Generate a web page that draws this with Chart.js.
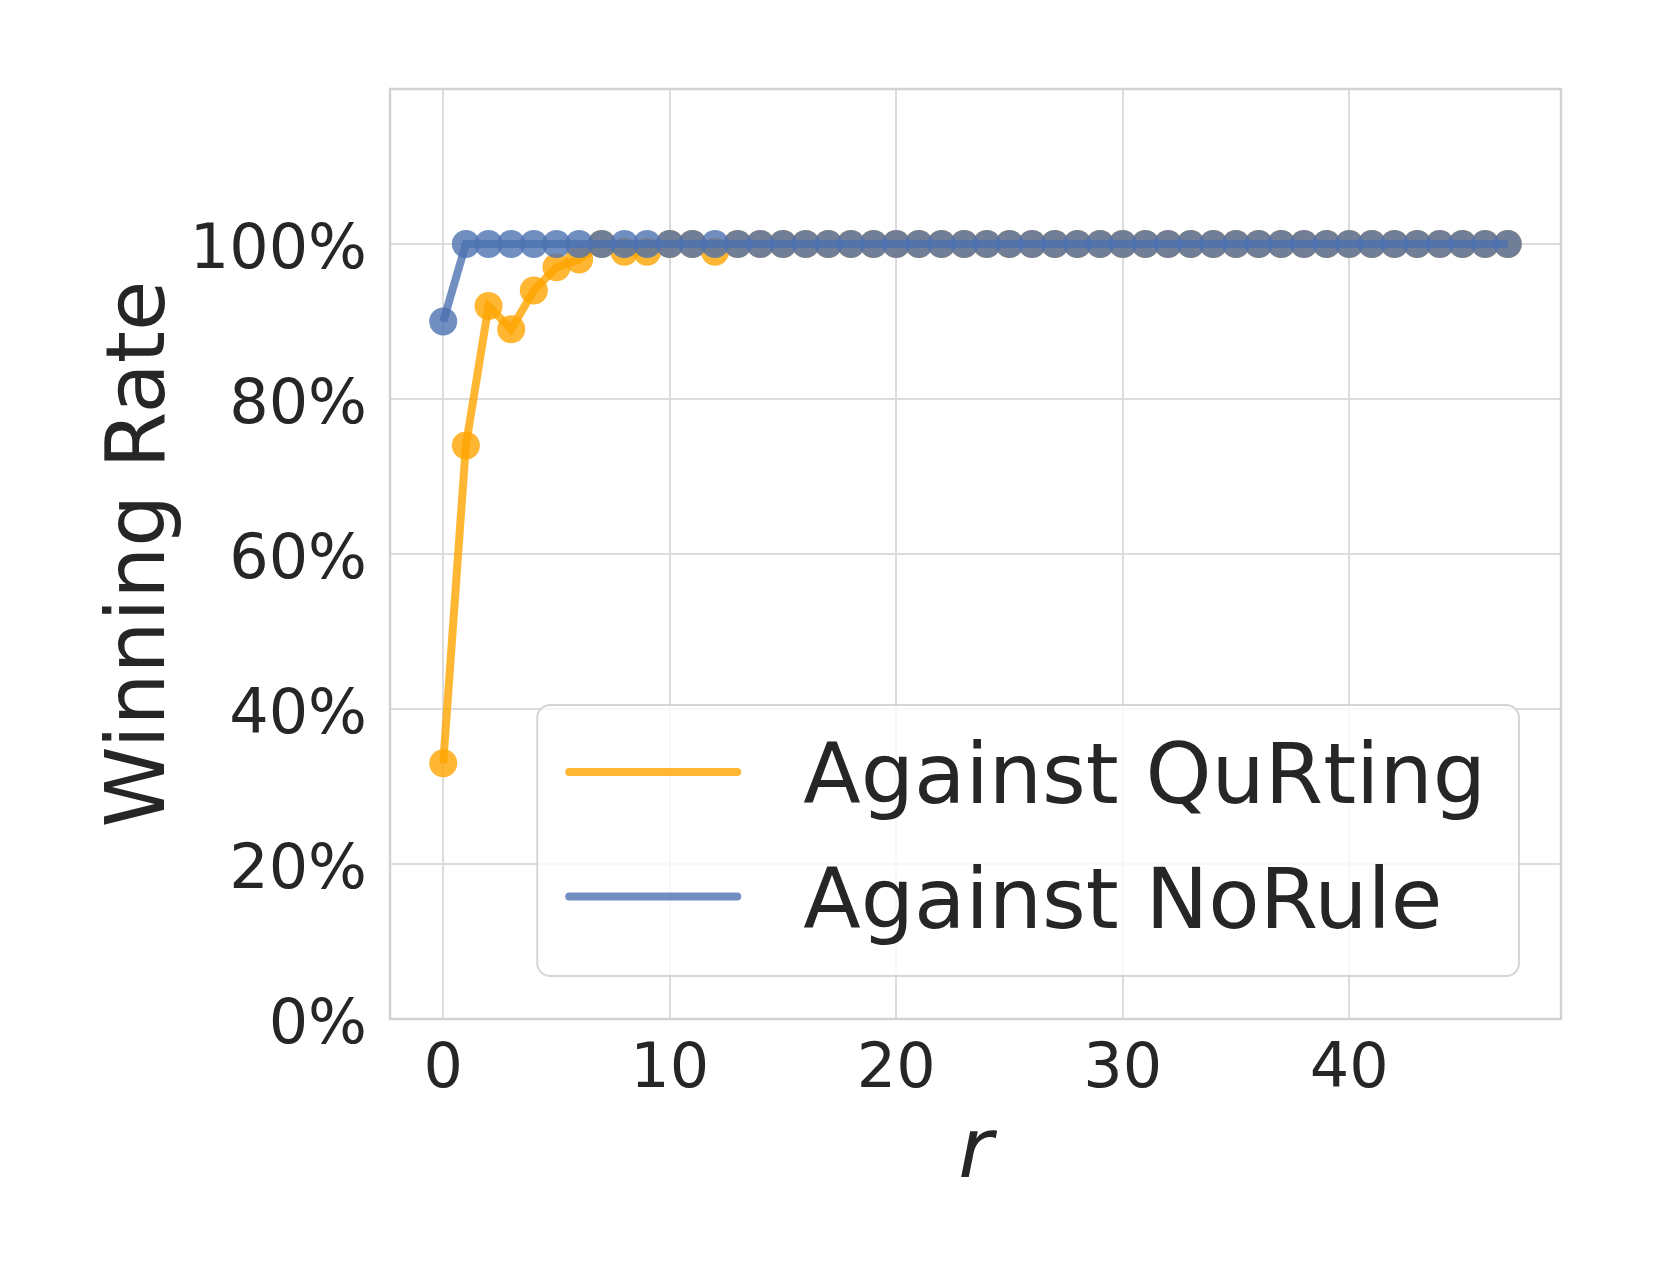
<!DOCTYPE html>
<html><head><meta charset="utf-8">
<script src="https://cdn.jsdelivr.net/npm/chart.js@4.4.1/dist/chart.umd.min.js"></script>
<style>html,body{margin:0;padding:0;background:#fff;}canvas{display:block;}</style>
</head><body>
<canvas id="c" width="1661" height="1283"></canvas>
<script>
const rounds = [0,1,2,3,4,5,6,7,8,9,10,11,12,13,14,15,16,17,18,19,20,21,22,23,24,25,26,27,28,29,30,31,32,33,34,35,36,37,38,39,40,41,42,43,44,45,46,47];
const againstQuRting = [33,74,92,89,94,97,98,100,99,99,100,100,99,100,100,100,100,100,100,100,100,100,100,100,100,100,100,100,100,100,100,100,100,100,100,100,100,100,100,100,100,100,100,100,100,100,100,100];
const againstNoRule = [90,100,100,100,100,100,100,100,100,100,100,100,100,100,100,100,100,100,100,100,100,100,100,100,100,100,100,100,100,100,100,100,100,100,100,100,100,100,100,100,100,100,100,100,100,100,100,100];
const seriesLabels = ['Against QuRting', 'Against NoRule'];
const xTickValues = [0, 10, 20, 30, 40];
const yTickValues = [0, 20, 40, 60, 80, 100];
const xTitle = 'r';
const yTitle = 'Winning Rate';

const ORANGE = 'rgba(255,165,0,0.8)';
const BLUE = 'rgba(76,114,176,0.8)';
const TEXT = '#262626';
const FAMILY = '"DejaVu Sans", sans-serif';

const toPoints = (vals) => rounds.map((r, i) => ({x: r, y: vals[i]}));

const framePlugin = {
  id: 'frame',
  beforeDatasetsDraw(chart) {
    const {ctx, chartArea: a} = chart;
    ctx.save();
    ctx.strokeStyle = '#d2d2d2';
    ctx.lineWidth = 2.5;
    ctx.strokeRect(a.left, a.top, a.right - a.left, a.bottom - a.top);
    ctx.restore();
  }
};

const legendPlugin = {
  id: 'insideLegend',
  afterDraw(chart) {
    const {ctx, chartArea: a} = chart;
    ctx.save();
    ctx.font = '84px ' + FAMILY;
    const items = chart.data.datasets.map(d => ({label: d.label, color: d.borderColor}));
    const maxW = Math.max(...items.map(it => ctx.measureText(it.label).width));
    const right = a.right - 42;
    const bottom = a.bottom - 43;
    const height = 271;
    const width = 28 + 176 + 62 + maxW + 33;
    const left = right - width;
    const top = bottom - height;
    const r = 13;
    ctx.beginPath();
    ctx.moveTo(left + r, top);
    ctx.arcTo(right, top, right, bottom, r);
    ctx.arcTo(right, bottom, left, bottom, r);
    ctx.arcTo(left, bottom, left, top, r);
    ctx.arcTo(left, top, right, top, r);
    ctx.closePath();
    ctx.fillStyle = 'rgba(255,255,255,0.8)';
    ctx.fill();
    ctx.strokeStyle = 'rgba(204,204,204,0.8)';
    ctx.lineWidth = 2;
    ctx.stroke();
    const rowYs = [top + 67, top + 191.5];
    items.forEach((it, i) => {
      const y = rowYs[i];
      ctx.beginPath();
      ctx.lineCap = 'round';
      ctx.lineWidth = 8;
      ctx.strokeStyle = it.color;
      ctx.moveTo(left + 32, y);
      ctx.lineTo(left + 200, y);
      ctx.stroke();
      ctx.fillStyle = TEXT;
      ctx.textBaseline = 'alphabetic';
      ctx.textAlign = 'left';
      ctx.fillText(it.label, left + 266, y + 31);
    });
    ctx.restore();
  }
};

new Chart(document.getElementById('c'), {
  type: 'line',
  data: {
    datasets: [
      {
        label: seriesLabels[0],
        data: toPoints(againstQuRting),
        borderColor: ORANGE,
        backgroundColor: ORANGE,
        borderWidth: 8,
        pointRadius: 14,
        pointBorderWidth: 0,
        pointBackgroundColor: ORANGE,
        tension: 0,
        order: 1
      },
      {
        label: seriesLabels[1],
        data: toPoints(againstNoRule),
        borderColor: BLUE,
        backgroundColor: BLUE,
        borderWidth: 8,
        pointRadius: 14,
        pointBorderWidth: 0,
        pointBackgroundColor: BLUE,
        tension: 0,
        order: 0
      }
    ]
  },
  options: {
    responsive: false,
    animation: false,
    devicePixelRatio: 1,
    layout: {padding: {top: 89, right: 100, left: 0, bottom: 0}},
    plugins: {legend: {display: false}, tooltip: {enabled: false}},
    scales: {
      x: {
        type: 'linear',
        min: -2.35,
        max: 49.35,
        afterBuildTicks: (s) => { s.ticks = xTickValues.map(v => ({value: v})); },
        afterFit: (s) => { s.height = 264; },
        grid: {color: '#dcdcdc', lineWidth: 2, drawTicks: false},
        border: {display: false},
        ticks: {color: TEXT, font: {family: FAMILY, size: 62}, padding: 15, maxRotation: 0, autoSkip: false},
        title: {display: true, text: xTitle, color: TEXT, font: {family: FAMILY, size: 84, style: 'italic'}, padding: {top: 0, bottom: 77}}
      },
      y: {
        type: 'linear',
        min: 0,
        max: 120,
        afterBuildTicks: (s) => { s.ticks = yTickValues.map(v => ({value: v})); },
        afterFit: (s) => { s.width = 390; },
        grid: {color: '#dcdcdc', lineWidth: 2, drawTicks: false},
        border: {display: false},
        ticks: {color: TEXT, font: {family: FAMILY, size: 62}, padding: 23, labelOffset: 8, autoSkip: false, callback: (v) => v + '%'},
        title: {display: true, text: yTitle, color: TEXT, font: {family: FAMILY, size: 82}, padding: {top: 94, bottom: 0}}
      }
    }
  },
  plugins: [framePlugin, legendPlugin]
});
</script>
</body></html>
